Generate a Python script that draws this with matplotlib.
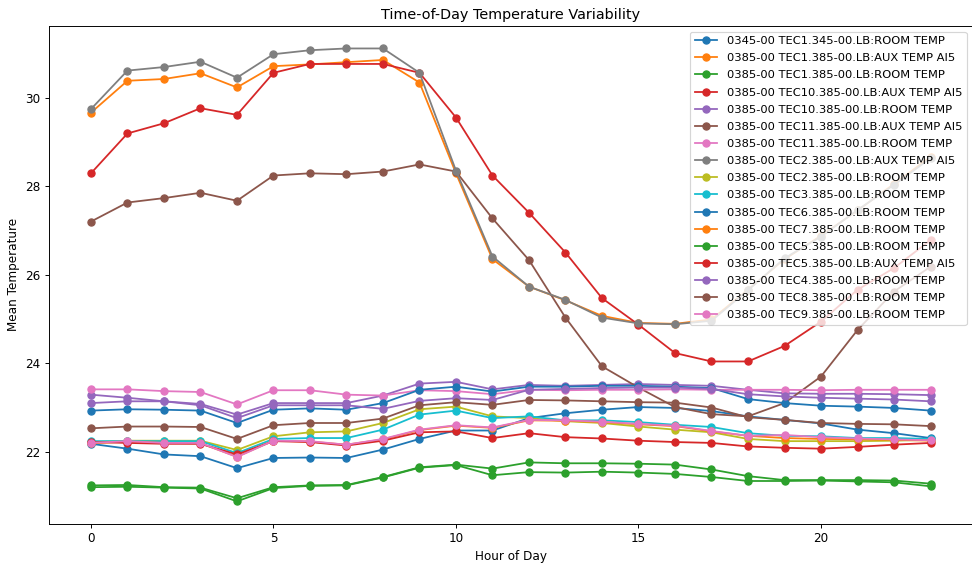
import numpy as np
import matplotlib
matplotlib.use('Agg')
import matplotlib.pyplot as plt

hours = list(range(24))

labels = [
    '0345-00 TEC1.345-00.LB:ROOM TEMP',
    '0385-00 TEC1.385-00.LB:AUX TEMP AI5',
    '0385-00 TEC1.385-00.LB:ROOM TEMP',
    '0385-00 TEC10.385-00.LB:AUX TEMP AI5',
    '0385-00 TEC10.385-00.LB:ROOM TEMP',
    '0385-00 TEC11.385-00.LB:AUX TEMP AI5',
    '0385-00 TEC11.385-00.LB:ROOM TEMP',
    '0385-00 TEC2.385-00.LB:AUX TEMP AI5',
    '0385-00 TEC2.385-00.LB:ROOM TEMP',
    '0385-00 TEC3.385-00.LB:ROOM TEMP',
    '0385-00 TEC6.385-00.LB:ROOM TEMP',
    '0385-00 TEC7.385-00.LB:ROOM TEMP',
    '0385-00 TEC5.385-00.LB:ROOM TEMP',
    '0385-00 TEC5.385-00.LB:AUX TEMP AI5',
    '0385-00 TEC4.385-00.LB:ROOM TEMP',
    '0385-00 TEC8.385-00.LB:ROOM TEMP',
    '0385-00 TEC9.385-00.LB:ROOM TEMP',
]

tec1_345_room = [22.18,22.07,21.94,21.90,21.63,21.86,21.87,21.86,22.05,22.29,22.48,22.48,22.76,22.87,22.95,23.01,22.99,22.92,22.80,22.72,22.64,22.50,22.42,22.31]
tec1_aux = [29.66,30.38,30.42,30.55,30.23,30.71,30.75,30.80,30.85,30.34,28.29,26.35,25.73,25.42,25.07,24.91,24.89,24.99,25.66,26.35,26.88,27.45,28.05,28.66]
tec1_room = [21.24,21.25,21.20,21.19,20.95,21.20,21.24,21.25,21.43,21.65,21.71,21.62,21.76,21.74,21.74,21.73,21.71,21.60,21.45,21.36,21.36,21.36,21.35,21.28]
tec10_aux = [28.29,29.19,29.42,29.76,29.61,30.56,30.76,30.76,30.76,30.56,29.55,28.24,27.40,26.50,25.47,24.87,24.23,24.04,24.04,24.39,24.94,25.66,26.15,26.78]
tec10_room = [23.29,23.22,23.14,23.08,22.84,23.10,23.10,23.10,23.27,23.54,23.58,23.41,23.51,23.49,23.51,23.53,23.51,23.49,23.40,23.32,23.31,23.31,23.30,23.28]
tec11_aux = [27.20,27.63,27.73,27.85,27.67,28.24,28.29,28.27,28.33,28.49,28.33,27.27,26.33,25.03,23.93,23.45,23.01,22.85,22.80,23.10,23.70,24.75,25.62,26.18]
tec11_room = [23.41,23.41,23.37,23.35,23.07,23.39,23.39,23.29,23.27,23.39,23.37,23.30,23.40,23.39,23.40,23.40,23.41,23.40,23.40,23.40,23.39,23.40,23.40,23.40]
tec2_aux = [29.74,30.61,30.69,30.81,30.45,30.98,31.07,31.11,31.11,30.56,28.35,26.41,25.73,25.43,25.03,24.90,24.88,24.96,25.65,26.37,26.86,27.46,28.03,28.63]
tec2_room = [22.22,22.25,22.25,22.25,22.04,22.35,22.44,22.46,22.65,22.96,23.02,22.80,22.76,22.69,22.65,22.57,22.50,22.44,22.29,22.24,22.24,22.24,22.25,22.27]
tec3_room = [22.24,22.24,22.24,22.24,21.97,22.29,22.31,22.31,22.50,22.84,22.93,22.76,22.80,22.71,22.71,22.67,22.61,22.56,22.42,22.36,22.35,22.31,22.31,22.29]
tec6_room = [22.93,22.96,22.95,22.93,22.65,22.95,22.98,22.95,23.10,23.40,23.47,23.36,23.47,23.47,23.49,23.49,23.47,23.44,23.19,23.10,23.04,23.02,22.99,22.93]
tec7_room = [22.19,22.23,22.20,22.19,21.89,22.25,22.23,22.16,22.28,22.49,22.59,22.54,22.71,22.70,22.67,22.62,22.58,22.46,22.36,22.31,22.29,22.28,22.27,22.25]
tec5_room = [21.20,21.21,21.19,21.17,20.88,21.18,21.23,21.24,21.42,21.64,21.70,21.47,21.54,21.53,21.55,21.53,21.50,21.43,21.34,21.34,21.35,21.33,21.31,21.22]
tec5_aux = [22.22,22.20,22.18,22.18,21.94,22.24,22.22,22.14,22.25,22.44,22.46,22.31,22.42,22.33,22.30,22.25,22.22,22.20,22.12,22.09,22.07,22.11,22.16,22.20]
tec4_room = [23.10,23.14,23.14,23.05,22.76,23.05,23.05,23.05,22.97,23.15,23.21,23.17,23.40,23.42,23.44,23.45,23.45,23.42,23.30,23.25,23.22,23.20,23.18,23.14]
tec8_room = [22.53,22.57,22.57,22.56,22.29,22.60,22.65,22.65,22.75,23.05,23.12,23.06,23.17,23.16,23.14,23.12,23.11,23.00,22.78,22.72,22.65,22.63,22.62,22.58]
tec9_room = [22.20,22.24,22.20,22.20,21.88,22.25,22.24,22.16,22.29,22.50,22.60,22.55,22.72,22.71,22.68,22.63,22.59,22.47,22.36,22.38,22.33,22.30,22.28,22.26]

series = [tec1_345_room, tec1_aux, tec1_room, tec10_aux, tec10_room, tec11_aux,
          tec11_room, tec2_aux, tec2_room, tec3_room, tec6_room, tec7_room,
          tec5_room, tec5_aux, tec4_room, tec8_room, tec9_room]

dpi = 86
fig, ax = plt.subplots(figsize=(972 / dpi, 566 / dpi), dpi=dpi)
fig.subplots_adjust(left=0.0504, right=1.0005, bottom=0.0742, top=0.9544)

for lab, vals in zip(labels, series):
    ax.plot(hours, vals, marker='o', label=lab)

ax.set_title('Time-of-Day Temperature Variability')
ax.set_xlabel('Hour of Day')
ax.set_ylabel('Mean Temperature')
ax.legend(loc='upper right', fontsize=9.6, labelspacing=0.62)

fig.savefig('out.png', dpi=dpi)
